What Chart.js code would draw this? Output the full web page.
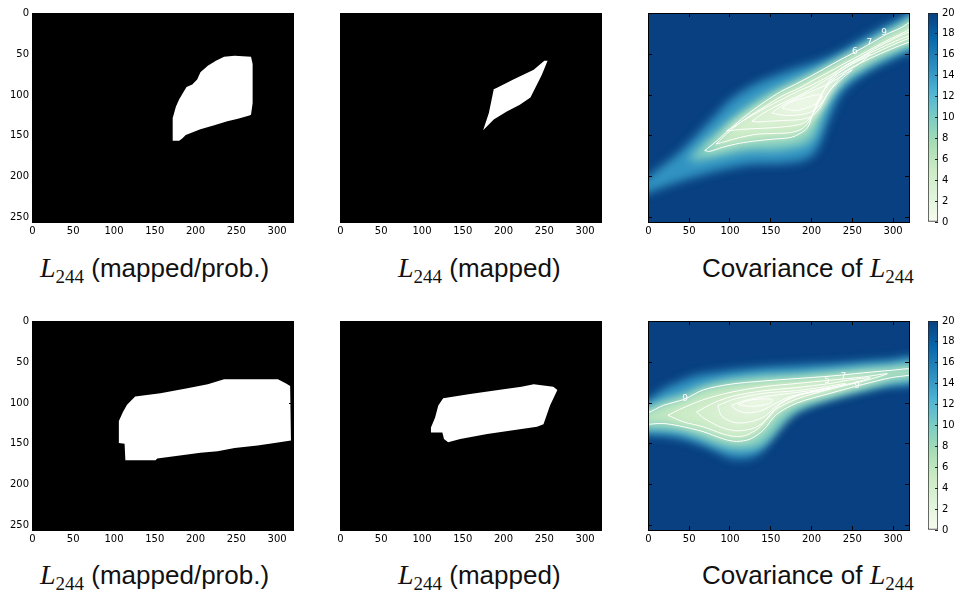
<!DOCTYPE html>
<html>
<head>
<meta charset="utf-8">
<title>L244 maps</title>
<script src="https://cdn.jsdelivr.net/npm/chart.js@4.4.1/dist/chart.umd.min.js"></script>
<style>
  html, body { margin: 0; padding: 0; background: #fff; }
  #fig { position: relative; width: 954px; height: 590px; overflow: hidden; }
  #fig canvas { position: absolute; }
  .cap { position: absolute; font-family: "Liberation Sans", sans-serif; font-size: 26px; line-height: 1; white-space: nowrap; color: #111; }
  .cap .m { font-family: "Liberation Serif", serif; font-style: italic; font-size: 28px; }
  .cap sub { font-family: "Liberation Serif", serif; font-size: 19px; vertical-align: -6px; line-height: 0; }
</style>
</head>
<body>
<div id="fig">
  <div class="cap" style="left:40px;top:254px"><span class="m">L</span><sub>244</sub> (mapped/prob.)</div>
  <div class="cap" style="left:398px;top:254px"><span class="m">L</span><sub>244</sub> (mapped)</div>
  <div class="cap" style="left:702px;top:254px">Covariance of <span class="m">L</span><sub>244</sub></div>
  <div class="cap" style="left:40px;top:561px"><span class="m">L</span><sub>244</sub> (mapped/prob.)</div>
  <div class="cap" style="left:398px;top:561px"><span class="m">L</span><sub>244</sub> (mapped)</div>
  <div class="cap" style="left:702px;top:561px">Covariance of <span class="m">L</span><sub>244</sub></div>
</div>
<script>
// axis ticks (pixel columns / rows of the 320x256 frames)
const xTicks = [0, 50, 100, 150, 200, 250, 300];
const yTicks = [0, 50, 100, 150, 200, 250];
const cbTicks = [0, 2, 4, 6, 8, 10, 12, 14, 16, 18, 20];

// binary masks, outlines as [column, row]
const maskProbTop = [[172,128],[172,156],[180,156],[184,153],[188,149],[206,142],[223,137],[239,132],[252,129],[266,125],[268,124],[270,110],[270,62],[268,53],[248,52],[235,53],[225,58],[215,64],[206,72],[202,81],[196,87],[189,90],[186,95],[180,105],[176,114]];
const maskMappedTop = [[175,143],[182,122],[188,93],[192,91],[212,81],[237,69],[250,58],[254,58],[247,75],[239,91],[233,103],[220,112],[204,120],[188,130]];
const maskProbBottom = [[126,92],[157,88],[190,82],[215,77],[235,71],[301,71],[311,76],[316,79],[317,146],[297,149],[276,152],[248,155],[227,159],[206,161],[190,163],[153,168],[151,170],[114,170],[113,150],[106,149],[106,122],[111,111],[116,102]];
const maskMappedBottom = [[126,94],[159,89],[200,83],[222,80],[237,77],[261,80],[266,84],[257,103],[249,126],[241,129],[220,132],[180,138],[147,144],[132,148],[127,144],[125,136],[111,136],[111,130],[116,118],[120,103]];

// covariance (top row): glow around the support, then level sets 9..4
const covTopOuter = [[-10,208],[0,200],[18,186],[38,170],[59,149],[80,127],[100,106],[121,92],[141,82],[162,74],[182,67],[207,59],[231,49],[264,30],[293,14],[320,0],[335,-8],[340,55],[324,47],[297,57],[272,69],[250,84],[235,100],[226,119],[218,138],[211,158],[201,174],[186,181],[162,184],[125,185],[88,192],[51,202],[26,210],[-1,220],[-11,223]];
const covTopBand = [[48,180],[63,163],[82,146],[102,128],[125,111],[147,98],[168,88],[186,80],[205,72],[223,63],[242,53],[260,44],[279,32],[297,21],[315,10],[330,2],[330,42],[324,39],[303,48],[279,60],[258,72],[238,85],[226,100],[217,116],[211,133],[203,151],[194,160],[178,165],[155,168],[133,168],[112,170],[88,175],[63,180]];
const covTop9 = [[69,168],[84,156],[104,138],[125,121],[143,108],[162,96],[180,87],[199,77],[217,67],[235,57],[254,47],[272,37],[291,26],[309,18],[330,7],[330,36],[324,34],[297,44],[272,55],[248,67],[229,79],[217,92],[208,106],[202,122],[195,140],[186,147],[174,152],[153,154],[133,156],[112,159],[91,164],[75,169]];
const covTop8 = [[83,160],[100,144],[122,127],[143,114],[164,101],[184,92],[202,82],[221,72],[239,62],[258,52],[276,42],[295,32],[312,24],[330,15],[330,30],[324,29],[299,39],[275,50],[250,62],[233,73],[221,85],[212,100],[205,116],[197,132],[189,141],[174,146],[153,147],[133,148],[112,152],[94,157]];
const covTop7 = [[96,144],[122,128],[143,116],[164,105],[184,95],[202,87],[221,77],[239,66],[258,55],[276,44],[295,34],[312,26],[330,19],[330,26],[324,26],[303,34],[279,45],[254,57],[235,68],[223,80],[214,96],[206,114],[199,127],[189,135],[174,138],[153,140],[133,141],[115,142]];
const covTop6 = [[127,132],[143,121],[162,111],[180,103],[199,93],[217,82],[235,71],[254,59],[272,50],[258,62],[240,73],[228,87],[218,101],[210,116],[200,126],[186,130],[168,131],[149,132],[134,133]];
const covTop5 = [[152,122],[162,114],[180,105],[199,96],[217,88],[235,78],[250,69],[235,82],[223,94],[213,109],[201,120],[186,124],[168,125]];
const covTop4 = [[164,116],[174,109],[189,104],[205,100],[213,101],[208,109],[196,115],[180,119]];
const covTopLabels = [['9', 289, 24], ['7', 271, 36], ['6', 253, 47]];

// covariance (bottom row)
const covBottomOuter = [[-11,98],[-1,97],[18,83],[38,74],[59,66],[100,60],[141,56],[182,54],[223,52],[264,49],[297,47],[328,44],[328,75],[285,80],[244,88],[203,100],[170,116],[153,139],[141,157],[125,167],[100,167],[79,157],[59,149],[38,143],[18,140],[-1,139],[-11,139]];
const covBottomBand = [[-11,106],[-1,104],[18,97],[45,88],[67,79],[100,71],[141,66],[182,64],[223,60],[264,56],[297,54],[328,52],[328,69],[297,75],[264,84],[223,95],[186,108],[168,123],[152,141],[135,154],[109,157],[85,152],[63,143],[38,135],[18,133],[-11,132]];
const covBottom9 = [[-11,112],[-1,112],[18,103],[45,95],[67,84],[100,77],[141,73],[182,70],[223,67],[264,63],[297,60],[328,58],[328,64],[297,69],[264,77],[223,88],[182,100],[157,114],[141,133],[125,144],[108,147],[92,144],[67,135],[38,128],[18,125],[-11,125]];
const covBottom8 = [[24,115],[38,108],[67,96],[100,87],[141,80],[182,76],[223,72],[264,68],[293,64],[264,73],[223,83],[182,95],[153,110],[137,129],[121,139],[108,141],[92,138],[67,129],[43,123]];
const covBottom7 = [[59,111],[82,99],[106,91],[141,85],[182,81],[223,76],[245,72],[272,69],[248,76],[223,81],[186,90],[162,101],[147,118],[131,130],[110,134],[90,130],[69,119]];
const covBottom6 = [[85,103],[106,95],[141,88],[180,85],[217,80],[242,76],[217,84],[180,91],[159,102],[143,116],[125,123],[106,124],[90,116]];
const covBottom5 = [[102,103],[118,97],[143,92],[174,88],[205,84],[223,81],[201,86],[174,92],[155,101],[139,109],[122,112],[109,109]];
const covBottom4 = [[110,102],[122,97],[139,95],[152,96],[147,101],[127,104]];
const covBottomLabels = [['9', 45, 95], ['5', 219, 73], ['7', 239, 68], ['9', 256, 79]];

// shade (on the 0..20 ramp) painted for glow, band and each level set
const layerShades = [14.5, 9.5, 5.8, 4.7, 3.7, 2.8, 1.9, 1.1];

// GnBu ramp, 0 (pale) .. 20 (deep blue)
const gnbuStops = ['#f7fcf0', '#e0f3db', '#ccebc5', '#a8ddb5', '#7bccc4', '#4eb3d3', '#2b8cbe', '#0868ac', '#084081'];

function gnbu(v) {
  const n = gnbuStops.length - 1;
  const t = Math.min(Math.max(v / 20, 0), 1) * n;
  const i = Math.min(Math.floor(t), n - 1);
  const f = t - i;
  const a = gnbuStops[i], b = gnbuStops[i + 1];
  const ch = (h, k) => parseInt(h.slice(1 + 2 * k, 3 + 2 * k), 16);
  const mix = [0, 1, 2].map(k => Math.round(ch(a, k) + (ch(b, k) - ch(a, k)) * f));
  return `rgb(${mix.join(',')})`;
}

const toXY = pts => pts.map(([x, y]) => ({ x, y }));
const setTicks = list => s => { s.ticks = list.map(v => ({ value: v })); };

// background of the plot area, optional soft blur for the heat layers, contour labels
Chart.register({
  id: 'panelBg',
  defaults: { color: null, blur: 0, labels: [] },
  beforeDatasetsDraw(chart, args, opts) {
    if (!opts.color) return;
    const { ctx, chartArea: a } = chart;
    ctx.save();
    ctx.fillStyle = opts.color;
    ctx.fillRect(a.left, a.top, a.width, a.height);
    ctx.restore();
    if (opts.blur) ctx.filter = `blur(${opts.blur}px)`;
  },
  afterDatasetDraw(chart, args) {
    if (chart.data.datasets[args.index].lastSoft) chart.ctx.filter = 'none';
  },
  afterDatasetsDraw(chart, args, opts) {
    const ctx = chart.ctx;
    ctx.filter = 'none';
    if (!opts.labels || !opts.labels.length) return;
    const { x, y } = chart.scales;
    ctx.save();
    ctx.fillStyle = '#ffffff';
    ctx.font = '9px "DejaVu Sans"';
    ctx.textAlign = 'center';
    ctx.textBaseline = 'middle';
    opts.labels.forEach(([t, lx, ly]) => ctx.fillText(t, x.getPixelForValue(lx), y.getPixelForValue(ly)));
    ctx.restore();
  }
});

function frameScales(showYLabels) {
  const tickFont = { family: 'DejaVu Sans', size: 10 };
  const grid = () => ({ drawOnChartArea: false, tickLength: -4, tickColor: '#000', z: 2 });
  const border = () => ({ color: '#000', width: 1, z: 2 });
  return {
    x: { type: 'linear', axis: 'x', position: 'bottom', min: -0.5, max: 319.5,
         afterBuildTicks: setTicks(xTicks), afterFit: s => { s.height = 23; },
         grid: grid(), border: border(),
         ticks: { font: tickFont, color: '#000', padding: 7, maxRotation: 0, autoSkip: false } },
    xTop: { type: 'linear', axis: 'x', position: 'top', min: -0.5, max: 319.5,
         afterBuildTicks: setTicks(xTicks), afterFit: s => { s.height = 0; },
         grid: grid(), border: border(), ticks: { display: false } },
    y: { type: 'linear', axis: 'y', position: 'left', reverse: true, min: -0.5, max: 255.5,
         afterBuildTicks: setTicks(yTicks), afterFit: s => { s.width = 32; },
         grid: grid(), border: border(),
         ticks: { display: showYLabels, font: tickFont, color: '#000', padding: 7, autoSkip: false } },
    yRight: { type: 'linear', axis: 'y', position: 'right', reverse: true, min: -0.5, max: 255.5,
         afterBuildTicks: setTicks(yTicks), afterFit: s => { s.width = 0; },
         grid: grid(), border: border(), ticks: { display: false } }
  };
}

function addCanvas(left, top, w, h) {
  const c = document.createElement('canvas');
  c.width = w; c.height = h;
  c.style.left = left + 'px'; c.style.top = top + 'px';
  document.getElementById('fig').prepend(c);
  return c;
}

function panel(left, top, datasets, bg, showYLabels, labels, blur) {
  new Chart(addCanvas(left, top, 305, 245), {
    type: 'scatter',
    data: { datasets },
    options: {
      responsive: false, animation: false, events: [],
      layout: { padding: { left: 0, top: 13, right: 12, bottom: 0 } },
      elements: { line: { capBezierPoints: false } },
      plugins: { legend: { display: false }, tooltip: { enabled: false },
                 panelBg: { color: bg, blur: blur || 0, labels: labels || [] } },
      scales: frameScales(showYLabels)
    }
  });
}

function maskSet(pts) {
  return [{ data: toXY(pts), showLine: true, fill: 'shape', backgroundColor: '#ffffff',
            borderColor: 'rgba(0,0,0,0)', borderWidth: 0, pointRadius: 0, tension: 0 }];
}

// soft colour layers (outer glow -> innermost level) plus white contour lines
function covSet(outer, band, levels) {
  const soft = [outer, band].concat(levels);
  const sets = soft.map((pts, i) => ({
    data: toXY(pts), showLine: true, fill: 'shape', backgroundColor: gnbu(layerShades[i]),
    borderColor: 'rgba(0,0,0,0)', borderWidth: 0, pointRadius: 0, tension: 0.3,
    order: 40 - i, lastSoft: i === soft.length - 1
  }));
  levels.forEach(pts => sets.push({
    data: toXY(pts.concat([pts[0]])), showLine: true, fill: false,
    borderColor: '#ffffff', borderWidth: 1, pointRadius: 0, tension: 0.3, order: 1
  }));
  return sets;
}

function colorbar(left, top) {
  new Chart(addCanvas(left, top, 34, 245), {
    type: 'bar',
    data: { labels: [''], datasets: [{
      data: [20], borderColor: '#222', borderWidth: 1, borderSkipped: false,
      barPercentage: 1, categoryPercentage: 1,
      backgroundColor: c => {
        const a = c.chart.chartArea;
        if (!a) return gnbu(10);
        const g = c.chart.ctx.createLinearGradient(0, a.bottom, 0, a.top);
        gnbuStops.forEach((s, i) => g.addColorStop(i / (gnbuStops.length - 1), s));
        return g;
      }
    }] },
    options: {
      responsive: false, animation: false, events: [],
      layout: { padding: { left: 8, top: 13, right: 0, bottom: 23 } },
      plugins: { legend: { display: false }, tooltip: { enabled: false } },
      scales: {
        x: { display: false },
        y: { position: 'right', min: 0, max: 20, afterBuildTicks: setTicks(cbTicks),
             afterFit: s => { s.width = 16; },
             grid: { drawOnChartArea: false, tickLength: -3, tickColor: '#222', z: 2 },
             border: { display: false },
             ticks: { font: { family: 'DejaVu Sans', size: 10 }, color: '#000', padding: 7 } }
      }
    }
  });
}

const deep = gnbu(20);
panel(0, 0, maskSet(maskProbTop), '#000', true);
panel(308, 0, maskSet(maskMappedTop), '#000', false);
panel(616, 0, covSet(covTopOuter, covTopBand, [covTop9, covTop8, covTop7, covTop6, covTop5, covTop4]), deep, false, covTopLabels, 5);
colorbar(920, 0);

panel(0, 308, maskSet(maskProbBottom), '#000', true);
panel(308, 308, maskSet(maskMappedBottom), '#000', false);
panel(616, 308, covSet(covBottomOuter, covBottomBand, [covBottom9, covBottom8, covBottom7, covBottom6, covBottom5, covBottom4]), deep, false, covBottomLabels, 5);
colorbar(920, 308);
</script>
</body>
</html>
